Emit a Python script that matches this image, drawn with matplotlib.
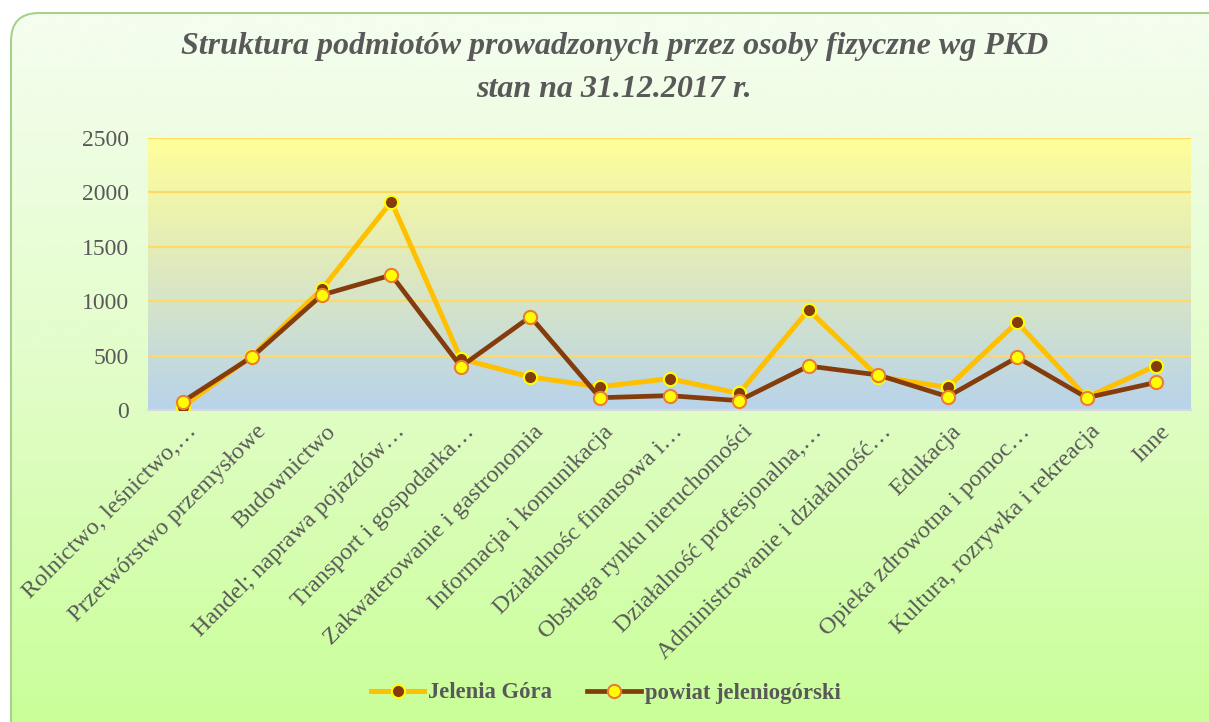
import numpy as np
import matplotlib.pyplot as plt
import matplotlib.transforms as mtransforms
from matplotlib.patches import FancyBboxPatch
from matplotlib.colors import LinearSegmentedColormap
from matplotlib.lines import Line2D

categories = [
    "Rolnictwo, leśnictwo,…",
    "Przetwórstwo przemysłowe",
    "Budownictwo",
    "Handel; naprawa pojazdów…",
    "Transport i gospodarka…",
    "Zakwaterowanie i gastronomia",
    "Informacja i komunikacja",
    "Działalnośc finansowa i…",
    "Obsługa rynku nieruchomości",
    "Działalność profesjonalna,…",
    "Administrowanie i działalność…",
    "Edukacja",
    "Opieka zdrowotna i pomoc…",
    "Kultura, rozrywka i rekreacja",
    "Inne",
]
jelenia_gora = [30, 500, 1110, 1915, 470, 303, 214, 288, 153, 920, 306, 208, 806, 116, 408]
powiat = [77, 490, 1057, 1240, 399, 858, 113, 132, 86, 404, 322, 123, 484, 113, 254]
yticks = [0, 500, 1000, 1500, 2000, 2500]

title = "Struktura podmiotów prowadzonych przez osoby fizyczne wg PKD\nstan na 31.12.2017 r."
serif = "Liberation Serif"
gray = "#595959"

W, H = 1209, 722
fig = plt.figure(figsize=(W / 100, H / 100), dpi=100)
fig.patch.set_facecolor("white")

# outer rounded frame with green gradient
bg = fig.add_axes([0, 0, 1, 1])
bg.set_xlim(0, W)
bg.set_ylim(H, 0)
bg.axis("off")
frame_cmap = LinearSegmentedColormap.from_list("frame", ["#f5fdf0", "#e2fdc8", "#c8ff96"])
grad = np.linspace(0, 1, 256).reshape(-1, 1)
im = bg.imshow(grad, cmap=frame_cmap, extent=[10, W + 20, H + 20, 12], aspect="auto")
frame = FancyBboxPatch((11, 13), W + 20, H + 20, boxstyle="round,pad=0,rounding_size=28",
                       transform=bg.transData, facecolor="none", edgecolor="#a9d18e", lw=1.5)
bg.add_patch(frame)
im.set_clip_path(frame)

fig.text(0.508, 1 - 68 / H, title, ha="center", va="center", fontsize=23, fontweight="bold",
         fontstyle="italic", family=serif, color=gray, linespacing=1.6)

# plot area
ax = fig.add_axes([148 / W, 1 - 410 / H, 1043 / W, 272 / H])
x = np.arange(len(categories))
ax.set_xlim(-0.5, len(categories) - 0.5)
ax.set_ylim(0, 2500)
plot_cmap = LinearSegmentedColormap.from_list("plot", ["#b8d3ea", "#dde8c0", "#ffff99"])
ax.imshow(grad, cmap=plot_cmap, origin="lower", extent=[-0.5, len(categories) - 0.5, 0, 2500],
          aspect="auto", zorder=0)
for yv in yticks[1:]:
    ax.axhline(yv, color="#ffd966", lw=1.6, zorder=1)
for s in ["top", "right", "left"]:
    ax.spines[s].set_visible(False)
ax.spines["bottom"].set_color("#d9d9d9")
ax.spines["bottom"].set_linewidth(1.5)

ax.plot(x, jelenia_gora, color="#ffc000", lw=3.6, marker="o", ms=9.5,
        mfc="#843c0c", mec="#ffff00", mew=1.5, zorder=3, label="Jelenia Góra")
ax.plot(x, powiat, color="#843c0c", lw=3.4, marker="o", ms=9.5,
        mfc="#ffff00", mec="#ed7d31", mew=1.5, zorder=4, label="powiat jeleniogórski")

ax.set_yticks(yticks)
ax.set_yticklabels([str(v) for v in yticks], family=serif, fontsize=17, color=gray)
ax.set_xticks(x)
ax.set_xticklabels(categories, rotation=45, ha="right", rotation_mode="anchor",
                   family=serif, fontsize=17.5, color=gray)
ax.tick_params(length=0)
ax.tick_params(axis="y", pad=14)
ax.tick_params(axis="x", pad=8)
shift = mtransforms.ScaledTranslation(3 / 100, 0, fig.dpi_scale_trans)
for lbl in ax.get_xticklabels():
    lbl.set_transform(lbl.get_transform() + shift)

handles = [
    Line2D([], [], color="#ffc000", lw=3.6, marker="o", ms=9.5, mfc="#843c0c", mec="#ffff00", mew=1.5),
    Line2D([], [], color="#843c0c", lw=3.4, marker="o", ms=9.5, mfc="#ffff00", mec="#ed7d31", mew=1.5),
]
fig.legend(handles, ["Jelenia Góra", "powiat jeleniogórski"], loc="center",
           bbox_to_anchor=(0.501, 1 - 693 / H), ncol=2, frameon=False, handlelength=2.35,
           handletextpad=0.18, columnspacing=1.55,
           prop={"family": serif, "size": 16.3, "weight": "bold"}, labelcolor=gray)

fig.savefig("out.png", dpi=100, facecolor=fig.get_facecolor())
